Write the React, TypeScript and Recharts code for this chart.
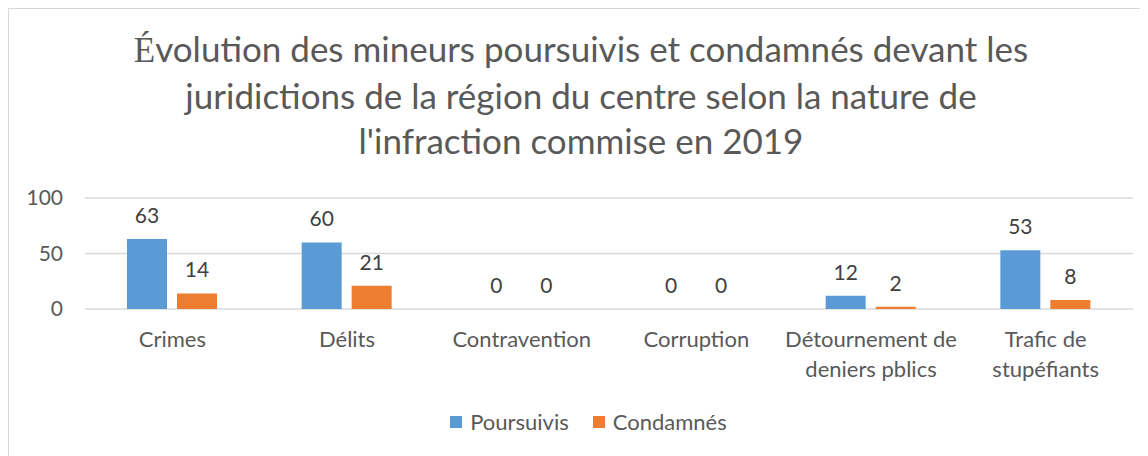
import React from 'react';
import { BarChart, Bar, XAxis, YAxis, CartesianGrid, LabelList, Legend } from 'recharts';

const categories = ['Crimes', 'Délits', 'Contravention', 'Corruption', 'Détournement de\ndeniers pblics', 'Trafic de\nstupéfiants'];
const poursuivis = [63, 60, 0, 0, 12, 53];
const condamnes = [14, 21, 0, 0, 2, 8];
const yTicks = [0, 50, 100];
const titleLines = ['volution des mineurs poursuivis et condamnés devant les', 'juridictions de la région du centre selon la nature de', "l'infraction commise en 2019"];

const data = categories.map((c, i) => ({ name: c, Poursuivis: poursuivis[i], Condamnés: condamnes[i] }));

const FONT = 'Lato, "Noto Sans", sans-serif';
const GREY = '#595959';

const XTick = (props: any) => {
  const { x, y, payload } = props;
  const lines = String(payload.value).split('\n');
  return (
    <text x={x} y={y + 30} textAnchor="middle" fontSize={22} fill={GREY} fontFamily={FONT}>
      {lines.map((l, i) => (
        <tspan key={i} x={x} dy={i === 0 ? 0 : 30}>{l}</tspan>
      ))}
    </text>
  );
};

const LegendContent = () => (
  <div style={{ display: 'flex', justifyContent: 'center', fontFamily: FONT, fontSize: 22, color: GREY, paddingLeft: 36 }}>
    {[['Poursuivis', '#5b9bd5'], ['Condamnés', '#ed7d31']].map(([n, c]) => (
      <div key={n} style={{ display: 'flex', alignItems: 'center', margin: '0 12px' }}>
        <span style={{ width: 12, height: 12, background: c, display: 'inline-block', marginRight: 8 }} />
        <span>{n}</span>
      </div>
    ))}
  </div>
);

export default function App() {
  return (
    <div style={{ position: 'relative', width: 1140, height: 448, background: '#fff' }}>
      <div style={{ position: 'absolute', left: 0, top: 0, right: 0, bottom: 0, borderLeft: '1px solid #d9d9d9', borderTop: '1px solid #d9d9d9', pointerEvents: 'none' }} />
      <div style={{ position: 'absolute', left: 0, top: 18, width: 1146, textAlign: 'center', fontFamily: FONT, fontSize: 35, lineHeight: '45px', color: GREY }}>
        {titleLines.map((l, i) => (
          <div key={l}>
            {i === 0 ? <span style={{ fontFamily: '"Liberation Serif", serif' }}>É</span> : null}
            {l}
          </div>
        ))}
      </div>
      <div style={{ position: 'absolute', left: 0, top: 0 }}>
        <BarChart width={1140} height={448} data={data} margin={{ top: 190, right: 15, bottom: 18, left: 0 }} barGap={10} barSize={40}>
          <CartesianGrid vertical={false} stroke="#d9d9d9" strokeWidth={1.5} />
          <XAxis dataKey="name" axisLine={false} tickLine={false} tick={<XTick />} interval={0} height={99} />
          <YAxis domain={[0, 100]} ticks={yTicks} axisLine={false} tickLine={false} width={77}
            tick={{ fontSize: 21, fill: GREY, fontFamily: FONT }} tickMargin={16} />
          <Legend verticalAlign="bottom" content={<LegendContent />} wrapperStyle={{ height: 30 }} />
          <Bar dataKey="Poursuivis" fill="#5b9bd5" isAnimationActive={false} minPointSize={0.01}>
            <LabelList dataKey="Poursuivis" position="top" offset={16} fill="#404040" fontSize={21} fontFamily={FONT} />
          </Bar>
          <Bar dataKey="Condamnés" fill="#ed7d31" isAnimationActive={false} minPointSize={0.01}>
            <LabelList dataKey="Condamnés" position="top" offset={16} fill="#404040" fontSize={21} fontFamily={FONT} />
          </Bar>
        </BarChart>
      </div>
    </div>
  );
}
